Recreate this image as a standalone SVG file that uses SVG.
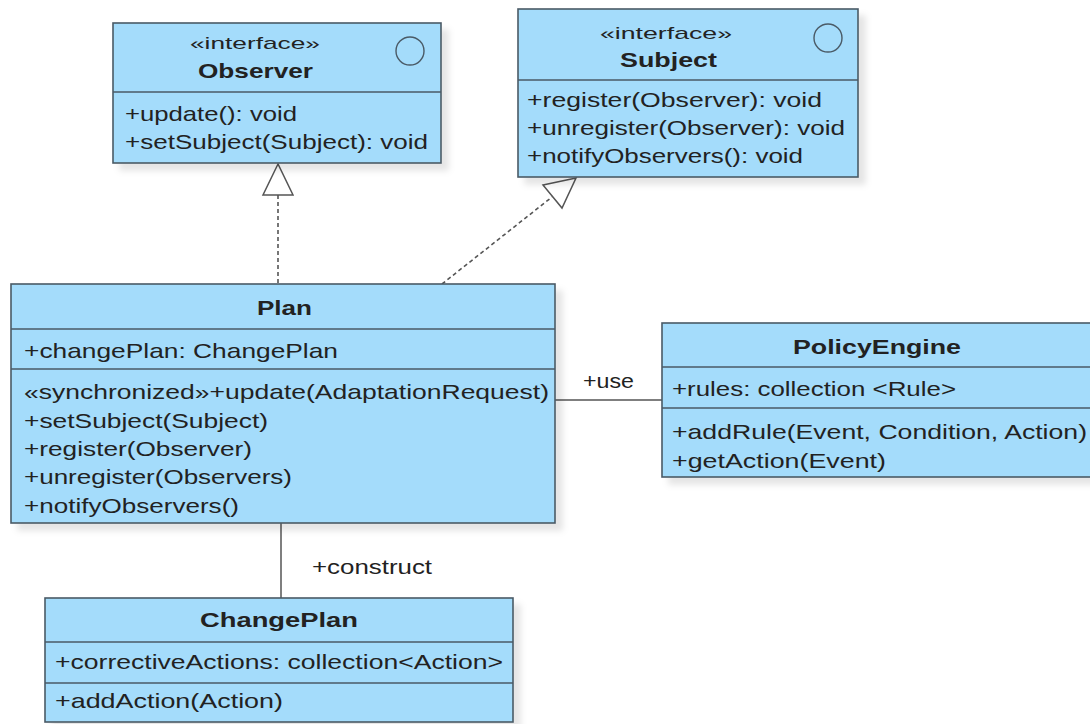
<svg xmlns="http://www.w3.org/2000/svg" width="1090" height="724" viewBox="0 0 1090 724">
  <defs>
    <filter id="shadow" x="-5%" y="-5%" width="115%" height="120%">
      <feDropShadow dx="7" dy="7" stdDeviation="3" flood-color="#000" flood-opacity="0.10"/>
    </filter>
  </defs>
  <style>
    .box { fill: #a4dcfb; stroke: #4a5a66; stroke-width: 1.6; filter: url(#shadow); }
    .div { stroke: #4a5a66; stroke-width: 1.4; }
    .icon { fill: none; stroke: #4a5a66; stroke-width: 1.4; }
    text { font-family: "Liberation Sans", Arial, sans-serif; fill: #222; }
    .m { font-size: 21px; }
    .st { font-size: 17px; }
    .t { font-size: 21px; font-weight: bold; }
    .lbl { font-size: 21px; }
    .solid { stroke: #555; stroke-width: 1.5; fill: none; }
    .dash { stroke: #555; stroke-width: 1.6; fill: none; stroke-dasharray: 4 3; }
    .head { fill: #fff; stroke: #555; stroke-width: 1.5; }
  </style>

  <rect width="1090" height="724" fill="#ffffff"/>

  <!-- connectors -->
  <g id="connectors">
    <!-- Plan realizes Observer -->
    <line class="dash" x1="278" y1="195" x2="278" y2="284"/>
    <polygon class="head" points="278,164 263,195 293,195"/>
    <!-- Plan realizes Subject -->
    <line class="dash" x1="442" y1="284" x2="552" y2="197"/>
    <polygon class="head" points="576,178 543,185 562,208"/>
    <!-- Plan uses PolicyEngine -->
    <line class="solid" x1="555" y1="400" x2="662" y2="400"/>
    <text class="lbl" x="583" y="388" textLength="51" lengthAdjust="spacingAndGlyphs">+use</text>
    <!-- Plan constructs ChangePlan -->
    <line class="solid" x1="281" y1="523" x2="281" y2="598"/>
    <text class="lbl" x="312" y="574" textLength="120" lengthAdjust="spacingAndGlyphs">+construct</text>
  </g>

  <!-- Observer interface -->
  <g id="observer">
    <rect class="box" x="113" y="23" width="328" height="140"/>
    <line class="div" x1="113" y1="92" x2="441" y2="92"/>
    <circle class="icon" cx="410" cy="51" r="14"/>
    <text class="st" x="190" y="49" textLength="130" lengthAdjust="spacingAndGlyphs">«interface»</text>
    <text class="t" x="198" y="78" textLength="115" lengthAdjust="spacingAndGlyphs">Observer</text>
    <text class="m" x="125" y="121" textLength="172" lengthAdjust="spacingAndGlyphs">+update(): void</text>
    <text class="m" x="125" y="149" textLength="303" lengthAdjust="spacingAndGlyphs">+setSubject(Subject): void</text>
  </g>

  <!-- Subject interface -->
  <g id="subject">
    <rect class="box" x="518" y="9" width="340" height="168"/>
    <line class="div" x1="518" y1="80" x2="858" y2="80"/>
    <circle class="icon" cx="828" cy="38" r="14"/>
    <text class="st" x="600" y="39" textLength="132" lengthAdjust="spacingAndGlyphs">«interface»</text>
    <text class="t" x="620" y="67" textLength="97" lengthAdjust="spacingAndGlyphs">Subject</text>
    <text class="m" x="527" y="107" textLength="295" lengthAdjust="spacingAndGlyphs">+register(Observer): void</text>
    <text class="m" x="527" y="135" textLength="318" lengthAdjust="spacingAndGlyphs">+unregister(Observer): void</text>
    <text class="m" x="527" y="163" textLength="276" lengthAdjust="spacingAndGlyphs">+notifyObservers(): void</text>
  </g>

  <!-- Plan class -->
  <g id="plan">
    <rect class="box" x="11" y="284" width="544" height="239"/>
    <line class="div" x1="11" y1="329" x2="555" y2="329"/>
    <line class="div" x1="11" y1="369" x2="555" y2="369"/>
    <text class="t" x="257" y="315" textLength="55" lengthAdjust="spacingAndGlyphs">Plan</text>
    <text class="m" x="24" y="358" textLength="314" lengthAdjust="spacingAndGlyphs">+changePlan: ChangePlan</text>
    <text class="m" x="24" y="399" textLength="525" lengthAdjust="spacingAndGlyphs">«synchronized»+update(AdaptationRequest)</text>
    <text class="m" x="24" y="428" textLength="244" lengthAdjust="spacingAndGlyphs">+setSubject(Subject)</text>
    <text class="m" x="24" y="456" textLength="228" lengthAdjust="spacingAndGlyphs">+register(Observer)</text>
    <text class="m" x="24" y="484" textLength="268" lengthAdjust="spacingAndGlyphs">+unregister(Observers)</text>
    <text class="m" x="24" y="513" textLength="215" lengthAdjust="spacingAndGlyphs">+notifyObservers()</text>
  </g>

  <!-- PolicyEngine class -->
  <g id="policy-engine">
    <rect class="box" x="662" y="323" width="432" height="154"/>
    <line class="div" x1="662" y1="367" x2="1094" y2="367"/>
    <line class="div" x1="662" y1="408" x2="1094" y2="408"/>
    <text class="t" x="793" y="354" textLength="168" lengthAdjust="spacingAndGlyphs">PolicyEngine</text>
    <text class="m" x="672" y="396" textLength="284" lengthAdjust="spacingAndGlyphs">+rules: collection &lt;Rule&gt;</text>
    <text class="m" x="672" y="439" textLength="415" lengthAdjust="spacingAndGlyphs">+addRule(Event, Condition, Action)</text>
    <text class="m" x="672" y="468" textLength="214" lengthAdjust="spacingAndGlyphs">+getAction(Event)</text>
  </g>

  <!-- ChangePlan class -->
  <g id="change-plan">
    <rect class="box" x="45" y="598" width="468" height="124"/>
    <line class="div" x1="45" y1="642" x2="513" y2="642"/>
    <line class="div" x1="45" y1="683" x2="513" y2="683"/>
    <text class="t" x="200" y="627" textLength="158" lengthAdjust="spacingAndGlyphs">ChangePlan</text>
    <text class="m" x="55" y="669" textLength="448" lengthAdjust="spacingAndGlyphs">+correctiveActions: collection&lt;Action&gt;</text>
    <text class="m" x="55" y="708" textLength="228" lengthAdjust="spacingAndGlyphs">+addAction(Action)</text>
  </g>
</svg>
